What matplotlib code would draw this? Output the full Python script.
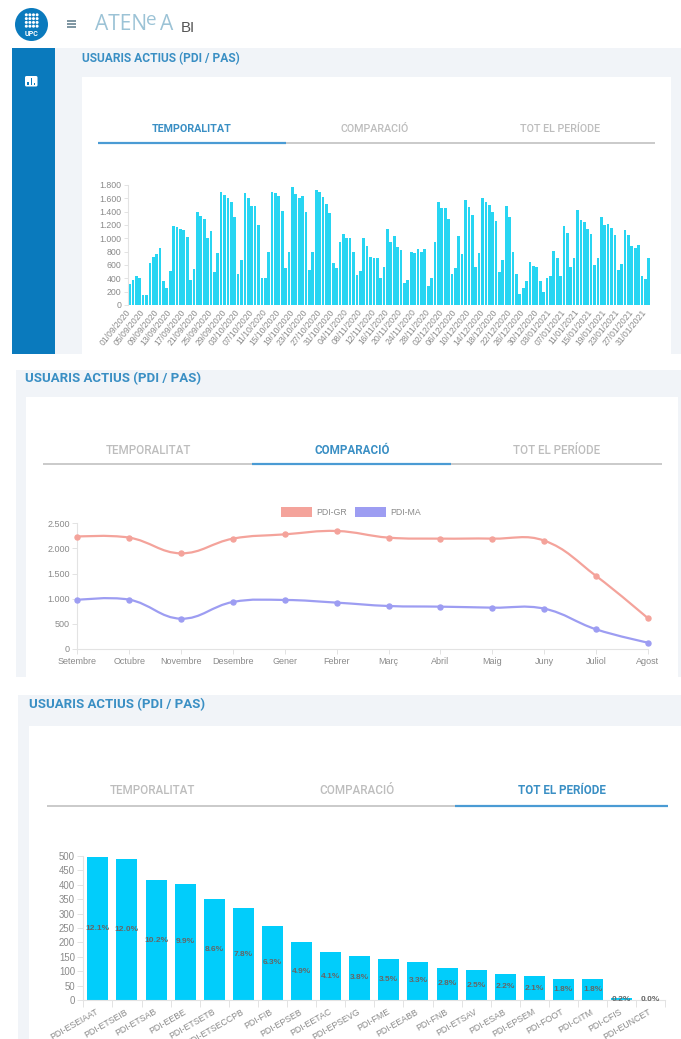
import matplotlib
matplotlib.use("Agg")
import matplotlib.pyplot as plt
from matplotlib.patches import Rectangle, Circle, FancyBboxPatch, PathPatch, Patch
from matplotlib.path import Path
from datetime import date, timedelta
import numpy as np

W, H = 681, 1039
PT = 0.72
CHART_FONT = ["Liberation Sans", "DejaVu Sans"]
UI_FONT = ["Roboto", "DejaVu Sans"]

# ---------- data ----------
TITLE = "USUARIS ACTIUS (PDI / PAS)"
TABS = ["TEMPORALITAT", "COMPARACIÓ", "TOT EL PERÍODE"]

daily_users = [
    320, 380, 440, 410, 150, 150, 630, 720, 760, 860, 360, 260, 510, 1190, 1170, 1140, 1130, 1020, 370,
    540, 1390, 1340, 1290, 1000, 1110, 490, 780, 1690, 1650, 1610, 1550, 1320, 460, 670, 1680, 1610,
    1490, 1490, 1200, 400, 400, 790, 1700, 1680, 1630, 1410, 550, 800, 1770, 1670, 1610, 1630, 1400,
    520, 790, 1730, 1690, 1620, 1510, 1380, 630, 560, 940, 1070, 1000, 1010, 790, 450, 510, 1000, 880,
    720, 700, 700, 410, 570, 1140, 950, 1030, 870, 830, 330, 370, 800, 780, 840, 800, 840, 280, 410,
    950, 1540, 1460, 1460, 1290, 470, 560, 1030, 770, 1570, 1470, 1350, 570, 780, 1610, 1540, 1500,
    1390, 1260, 490, 680, 1490, 1320, 790, 460, 160, 260, 360, 650, 590, 570, 360, 200, 400, 430, 810,
    700, 440, 1180, 1080, 570, 710, 1430, 1280, 1240, 1140, 1060, 600, 710, 1320, 1200, 1210, 1160,
    1050, 530, 610, 1120, 1050, 890, 860, 900, 440, 390, 700,
]
first_day = date(2020, 9, 1)
daily_labels = [(first_day + timedelta(days=i)).strftime("%d/%m/%Y") for i in range(len(daily_users))]
daily_yticks = [0, 200, 400, 600, 800, 1000, 1200, 1400, 1600, 1800]

months = ["Setembre", "Octubre", "Novembre", "Desembre", "Gener", "Febrer",
          "Març", "Abril", "Maig", "Juny", "Juliol", "Agost"]
pdi_gr = [2235, 2215, 1903, 2195, 2280, 2347, 2215, 2195, 2195, 2155, 1452, 610]
pdi_ma = [975, 981, 603, 935, 975, 922, 855, 842, 822, 802, 391, 126]
month_yticks = [0, 500, 1000, 1500, 2000, 2500]

centres = ["PDI-ESEIAAT", "PDI-ETSEIB", "PDI-ETSAB", "PDI-EEBE", "PDI-ETSETB", "PDI-ETSECCPB", "PDI-FIB",
           "PDI-EPSEB", "PDI-EETAC", "PDI-EPSEVG", "PDI-FME", "PDI-EEABB", "PDI-FNB", "PDI-ETSAV", "PDI-ESAB",
           "PDI-EPSEM", "PDI-FOOT", "PDI-CITM", "PDI-CFIS", "PDI-EUNCET"]
centre_users = [496, 491, 416, 403, 350, 318, 257, 200, 166, 153, 143, 133, 112, 103, 91, 83, 74, 72, 6, 1]
centre_pct = ["12.1%", "12.0%", "10.2%", "9.9%", "8.6%", "7.8%", "6.3%", "4.9%", "4.1%", "3.8%",
              "3.5%", "3.3%", "2.8%", "2.5%", "2.2%", "2.1%", "1.8%", "1.8%", "0.2%", "0.0%"]
centre_yticks = [0, 50, 100, 150, 200, 250, 300, 350, 400, 450, 500]

# ---------- colours ----------
BLUE = "#0a7abd"
GREY_BG = "#f1f4f8"
TITLE_C = "#3a8fc4"
TAB_OFF = "#bdbdbd"
TAB_LINE = "#c6c6c6"
TAB_ON = "#4a9bd4"
AXIS_C = "#e3e3e3"
TXT_C = "#8a8a8a"
LOGO_C = "#9cc3d6"

fig = plt.figure(figsize=(W / 100, H / 100), dpi=100, facecolor="white")

bg = fig.add_axes([0, 0, 1, 1])
bg.set_xlim(0, W)
bg.set_ylim(H, 0)
bg.axis("off")


def rect(x0, y0, x1, y1, c, z=1):
    bg.add_patch(Rectangle((x0, y0), x1 - x0, y1 - y0, fc=c, ec="none", zorder=z))


def px_axes(x0, y_top, x1, y_bot):
    ax = fig.add_axes([x0 / W, 1 - y_bot / H, (x1 - x0) / W, (y_bot - y_top) / H])
    ax.patch.set_alpha(0)
    for s in ("top", "right"):
        ax.spines[s].set_visible(False)
    for s in ("left", "bottom"):
        ax.spines[s].set_color(AXIS_C)
        ax.spines[s].set_linewidth(0.8)
    return ax


def panel(grey, card, title_xy, title_px, tab_y, tab_cx, tab_px, line_y, line_x, on_x, active, sidebar=None):
    rect(*grey, GREY_BG, 1)
    rect(*card, "white", 2)
    if sidebar:
        rect(*sidebar, BLUE, 3)
    bg.text(*title_xy, TITLE, color=TITLE_C, fontsize=title_px * PT, family=UI_FONT,
            fontweight="bold", va="center", ha="left", zorder=4)
    for i, t in enumerate(TABS):
        bg.text(tab_cx[i], tab_y, t, color=TITLE_C if i == active else TAB_OFF, fontsize=tab_px * PT,
                family=UI_FONT, fontweight="bold" if i == active else "medium",
                va="center", ha="center", zorder=4)
    bg.plot(line_x, [line_y, line_y], color=TAB_LINE, lw=1.3, zorder=4, solid_capstyle="butt")
    bg.plot(on_x, [line_y, line_y], color=TAB_ON, lw=1.6, zorder=5, solid_capstyle="butt")


panel((12, 48, W, 354), (82, 77, 671, 354), (82, 59), 12, 129, (192, 375, 560), 10.7, 143, (98, 655), (98, 286), 0,
      sidebar=(12, 48, 55, 354))
panel((16, 370, W, 677), (26, 397, 678, 677), (25, 379), 13.2, 451, (148, 352, 557), 11.6, 464, (43, 662), (252, 451), 1)
panel((18, 695, W, H), (29, 726, W, H), (29, 705), 13.2, 790, (152, 357, 562), 11.6, 806, (47, 668), (455, 668), 2)

# ---------- header ----------
bg.add_patch(Circle((31.5, 24.5), 16.5, fc=BLUE, ec="none", zorder=3))
for row in range(4):
    for col in range(4):
        bg.add_patch(Circle((26.3 + col * 3.6, 14.8 + row * 3.8), 1.5, fc="white", ec="none", zorder=4))
bg.text(31.5, 33.5, "UPC", color="white", fontsize=5.2, fontweight="bold", family=UI_FONT,
        ha="center", va="center", zorder=4)
for y in (21, 24, 27):
    bg.plot([67, 75.5], [y, y], color="#5a7888", lw=1.1, zorder=4, solid_capstyle="butt")
LOGO_FONT = ["Open Sans", "DejaVu Sans"]
bg.text(95, 25, "ATEN", color=LOGO_C, fontsize=21 * PT, family=LOGO_FONT, fontweight="normal",
        va="center", ha="left", zorder=4)
bg.text(146, 20, "e", color=LOGO_C, fontsize=19 * PT, family=LOGO_FONT, fontweight="normal",
        va="center", ha="left", zorder=4)
bg.text(160, 25, "A", color=LOGO_C, fontsize=21 * PT, family=LOGO_FONT, fontweight="normal",
        va="center", ha="left", zorder=4)
bg.text(181, 28, "BI", color="#555555", fontsize=15 * PT, family=CHART_FONT, va="center", ha="left", zorder=4)

bg.add_patch(FancyBboxPatch((25, 76), 12.5, 10.5, boxstyle="round,pad=0,rounding_size=1.5", fc="white", ec="none", zorder=4))
for x0, y0 in ((27.3, 81.5), (30.5, 78), (33.7, 83)):
    bg.add_patch(Rectangle((x0, y0), 1.5, 85 - y0, fc=BLUE, ec="none", zorder=5))


def fmt(v):
    return f"{v:,}".replace(",", ".")


# ---------- panel 1: bars per day ----------
ax1 = px_axes(127.8, 185, 650.5, 305)
ax1.set_xlim(-0.5, len(daily_users) - 0.5)
ax1.set_ylim(0, 1800)
ax1.bar(range(len(daily_users)), daily_users, width=0.8, color="#27d5f2", linewidth=0)
ax1.set_yticks(daily_yticks, [fmt(v) for v in daily_yticks], fontsize=8.8 * PT, color=TXT_C, family=CHART_FONT)
tick_idx = list(range(0, len(daily_users), 4))
ax1.set_xticks(tick_idx, [daily_labels[i] for i in tick_idx], rotation=51, ha="right", rotation_mode="anchor",
               va="center", fontsize=8.6 * PT, color=TXT_C, family=CHART_FONT)
ax1.tick_params(axis="y", length=3, width=0.7, color=AXIS_C, pad=1.5)
ax1.tick_params(axis="x", length=0, pad=4)
ax1.spines["bottom"].set_visible(False)

# ---------- panel 2: smoothed lines ----------
ax2 = px_axes(77.3, 523.3, 648, 649)
ax2.set_xlim(0, len(months) - 1)
ax2.set_ylim(0, 2500)
SX = (648 - 77.3) / (len(months) - 1)
SY = (649 - 523.3) / 2500


def smooth_path(values, tension=0.4):
    """Bezier line through the values, as the chart library of the source draws it."""
    p = np.column_stack([np.arange(len(values)) * SX, np.array(values, float) * SY])
    verts = [p[0]]
    codes = [Path.MOVETO]
    ctrl_next = p[0]
    for i in range(1, len(p)):
        if i < len(p) - 1:
            d1 = np.linalg.norm(p[i] - p[i - 1])
            d2 = np.linalg.norm(p[i + 1] - p[i])
            s1 = d1 / (d1 + d2)
            s2 = d2 / (d1 + d2)
            prev_c = p[i] - tension * s1 * (p[i + 1] - p[i - 1])
            nxt_c = p[i] + tension * s2 * (p[i + 1] - p[i - 1])
        else:
            prev_c = nxt_c = p[i]
        verts += [ctrl_next, prev_c, p[i]]
        codes += [Path.CURVE4] * 3
        ctrl_next = nxt_c
    return Path(np.array(verts) / np.array([SX, SY]), codes)


for vals, col in ((pdi_gr, "#f4a39b"), (pdi_ma, "#9d9df2")):
    ax2.add_patch(PathPatch(smooth_path(vals), fc="none", ec=col, lw=1.6, clip_on=False, zorder=3))
    ax2.plot(range(len(months)), vals, ls="none", marker="o", ms=3.6, color=col, clip_on=False, zorder=4)
ax2.set_xticks(range(len(months)), months, fontsize=9 * PT, color=TXT_C, family=CHART_FONT)
ax2.set_yticks(month_yticks, [fmt(v) for v in month_yticks], fontsize=9 * PT, color=TXT_C, family=CHART_FONT)
ax2.tick_params(axis="both", length=3.5, width=0.7, color=AXIS_C, pad=2)
ax2.legend(handles=[Patch(fc="#f4a39b", label="PDI-GR"), Patch(fc="#9d9df2", label="PDI-MA")], ncol=2,
           loc="center", bbox_to_anchor=(0.4796, 1.092), frameon=False, labelcolor=TXT_C,
           prop={"family": CHART_FONT, "size": 8.8 * PT}, handlelength=3.6, handleheight=1.35, handletextpad=0.5,
           columnspacing=0.8, borderpad=0, borderaxespad=0)

# ---------- panel 3: bars per centre ----------
n = len(centres)
ax3 = px_axes(83.3, 856, 665.3, 1000)
ax3.set_xlim(0, n)
ax3.set_ylim(0, 500)
pos = np.arange(n) + 0.5
ax3.bar(pos, centre_users, width=0.72, color="#01cdfb", linewidth=0, zorder=2)
for x, v, t in zip(pos, centre_users, centre_pct):
    ax3.text(x, v / 2, t, ha="center", va="center", fontsize=8.4 * PT, color="#666666", fontweight="bold",
             family=CHART_FONT, zorder=3, clip_on=False)
ax3.set_yticks(centre_yticks, [str(v) for v in centre_yticks], fontsize=9.6 * PT, color=TXT_C, family=CHART_FONT)
ax3.set_xticks(np.arange(n + 1), [""] * (n + 1))
ax3.set_xticks(pos, centres, minor=True, rotation=30, ha="right", rotation_mode="anchor", va="center",
               fontsize=8.8 * PT, color=TXT_C, family=CHART_FONT)
ax3.tick_params(axis="x", which="major", length=5, width=0.7, color=AXIS_C)
ax3.tick_params(axis="x", which="minor", length=0, pad=8)
ax3.tick_params(axis="y", length=4, width=0.7, color=AXIS_C, pad=2)

fig.savefig("out.png", dpi=100)
